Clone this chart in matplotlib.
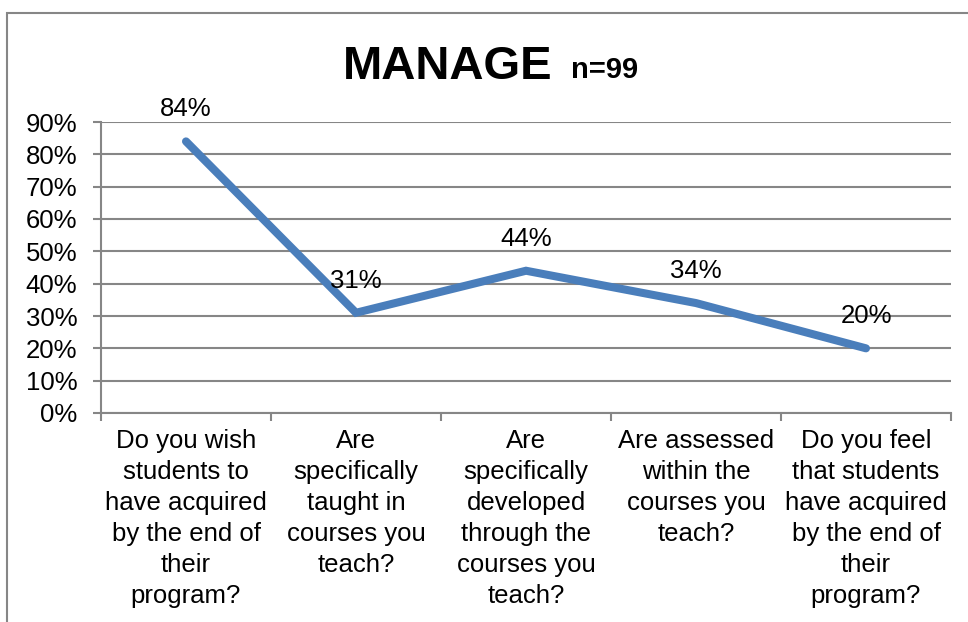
import matplotlib
matplotlib.use("Agg")
import matplotlib.pyplot as plt
from matplotlib.patches import Rectangle
from matplotlib.ticker import FixedLocator, PercentFormatter

categories = [
    "Do you wish\nstudents to\nhave acquired\nby the end of\ntheir\nprogram?",
    "Are\nspecifically\ntaught in\ncourses you\nteach?",
    "Are\nspecifically\ndeveloped\nthrough the\ncourses you\nteach?",
    "Are assessed\nwithin the\ncourses you\nteach?",
    "Do you feel\nthat students\nhave acquired\nby the end of\ntheir\nprogram?",
]
values = [0.84, 0.31, 0.44, 0.34, 0.20]
labels = ["84%", "31%", "44%", "34%", "20%"]
yticks = [0.0, 0.1, 0.2, 0.3, 0.4, 0.5, 0.6, 0.7, 0.8, 0.9]

plt.rcParams['font.family'] = ['Liberation Sans', 'DejaVu Sans']

W, H = 968, 622
fig = plt.figure(figsize=(W / 100, H / 100), dpi=100)
fig.patch.set_facecolor("white")

grey = "#868686"
blue = "#4A7EBB"
fs = 18.5

# outer chart frame
fig.patches.append(Rectangle((7 / W, -0.02), 1.05, 1 - 13 / H + 0.02,
                             transform=fig.transFigure, fill=False,
                             edgecolor=grey, linewidth=1.5))

ax = fig.add_axes([101 / W, (H - 413) / H, (951 - 101) / W, (413 - 122) / H])
x = list(range(len(values)))
ax.plot(x, values, color=blue, linewidth=5.8, solid_capstyle="round",
        solid_joinstyle="miter", zorder=3)

for xi, v, lab in zip(x, values, labels):
    ax.annotate(lab, (xi, v), xytext=(0, 23), textcoords="offset points",
                ha="center", va="center", fontsize=fs, color="black", zorder=4)

ax.set_xlim(-0.5, len(values) - 0.5)
ax.set_ylim(0, 0.9)
ax.set_yticks(yticks)
ax.yaxis.set_major_formatter(PercentFormatter(1.0, decimals=0))
ax.yaxis.grid(True, color=grey, linewidth=1.5)
ax.set_axisbelow(True)

ax.set_xticks(x)
ax.set_xticklabels(categories, fontsize=fs, linespacing=1.37, va="top")
ax.xaxis.set_minor_locator(FixedLocator([i - 0.5 for i in range(len(values) + 1)]))
ax.tick_params(axis="x", which="major", length=0, pad=11.5)
ax.tick_params(axis="x", which="minor", length=6, width=1.5, color=grey, direction="out")
ax.tick_params(axis="y", which="major", length=6, width=1.5, color=grey,
               labelsize=fs, pad=11)

for s in ["top", "right"]:
    ax.spines[s].set_visible(False)
for s in ["left", "bottom"]:
    ax.spines[s].set_color(grey)
    ax.spines[s].set_linewidth(1.5)

fig.text(552 / W, 1 - 79 / H, "MANAGE", fontsize=34, fontweight="bold",
         ha="right", va="baseline")
fig.text(571 / W, 1 - 78 / H, "n=99", fontsize=21, fontweight="bold",
         ha="left", va="baseline")

fig.savefig("out.png", dpi=100, facecolor="white")
